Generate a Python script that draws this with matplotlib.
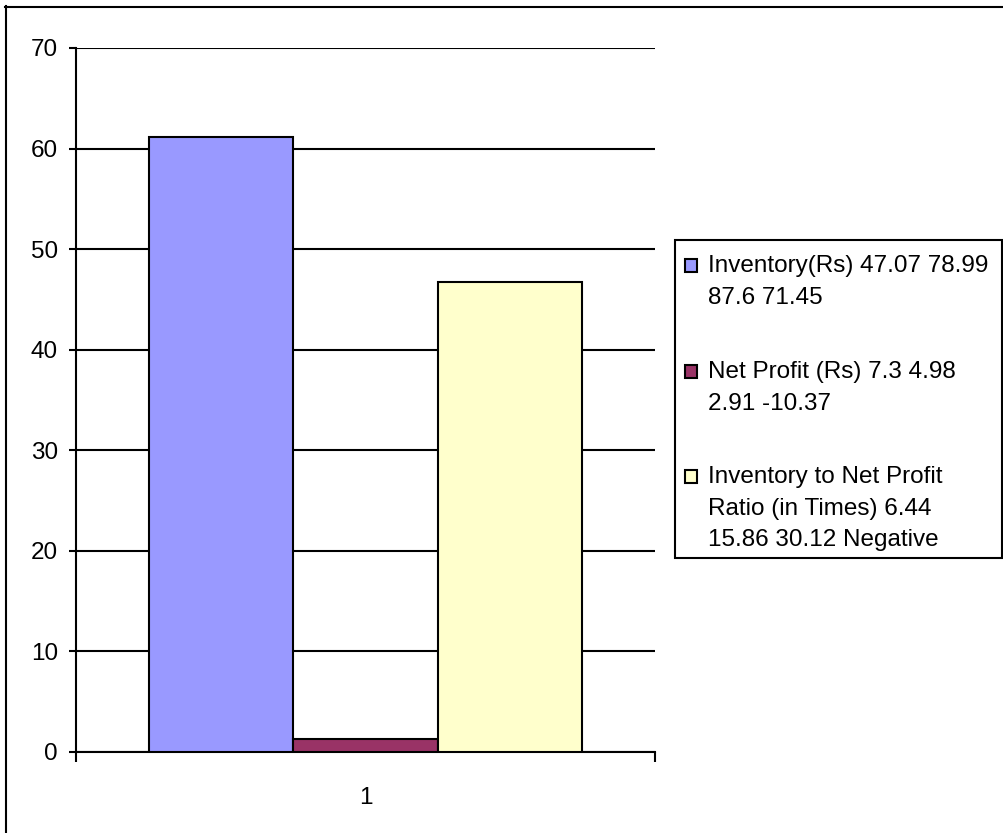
import numpy as np
import matplotlib.pyplot as plt
from matplotlib.patches import Rectangle
from matplotlib.lines import Line2D

plt.rcParams['font.family'] = ['Liberation Sans', 'DejaVu Sans']

# series data
categories = ['1']
series = [
    'Inventory(Rs) 47.07 78.99 87.6 71.45',
    'Net Profit (Rs) 7.3 4.98 2.91 -10.37',
    'Inventory to Net Profit Ratio (in Times) 6.44 15.86 30.12 Negative',
]
legend_lines = [
    ['Inventory(Rs) 47.07 78.99', '87.6 71.45'],
    ['Net Profit (Rs) 7.3 4.98', '2.91 -10.37'],
    ['Inventory to Net Profit', 'Ratio (in Times) 6.44', '15.86 30.12 Negative'],
]
values = [61.2, 1.3, 46.7]
colors = ['#9999FF', '#993366', '#FFFFCC']

W, H = 1004, 833
fig = plt.figure(figsize=(W / 100, H / 100), dpi=100)

def fx(px):
    return px / W

def fy(py):
    return 1 - py / H

ax = fig.add_axes([fx(76), fy(752), fx(655) - fx(76), fy(48) - fy(752)])

bw = 0.249
for i, (v, c) in enumerate(zip(values, colors)):
    ax.bar(1 + (i - 1) * bw, v, width=bw, color=c, edgecolor='black',
           linewidth=1.5, zorder=3)

ax.set_xlim(0.5, 1.5)
ax.set_ylim(0, 70)
ax.set_yticks(np.arange(0, 71, 10))
ax.yaxis.grid(True, color='black', linewidth=1.5, zorder=0)
ax.set_axisbelow(True)
ax.set_xticks([1])
ax.set_xticklabels(categories)
ax.set_xticks([0.5, 1.5], minor=True)
ax.tick_params(axis='x', which='major', length=0, pad=25, labelsize=17.5)
ax.tick_params(axis='x', which='minor', length=7, width=1.5, direction='out')
ax.tick_params(axis='y', length=5, width=1.5, pad=8, labelsize=17.5)
for s in ['top', 'right']:
    ax.spines[s].set_visible(False)
for s in ['left', 'bottom']:
    ax.spines[s].set_linewidth(1.5)

# legend box drawn by hand so each entry wraps over several lines
fig.add_artist(Rectangle((fx(675.5), fy(558)), fx(1002.5) - fx(675.5),
                         fy(239.5) - fy(558), transform=fig.transFigure,
                         facecolor='white', edgecolor='black', linewidth=1.5))
first_base = [272, 378, 483]
line_step = 31.5
for lines, c, yb in zip(legend_lines, colors, first_base):
    fig.add_artist(Rectangle((fx(685.5), fy(yb)), fx(12), 13 / H,
                             transform=fig.transFigure, facecolor=c,
                             edgecolor='black', linewidth=1.5))
    for k, t in enumerate(lines):
        fig.text(fx(708), fy(yb + k * line_step), t, fontsize=17.5,
                 va='baseline', ha='left')

# outer chart frame (top and left edges)
fig.add_artist(Line2D([fx(5.5), fx(5.5)], [fy(6), 0], transform=fig.transFigure,
                      color='black', linewidth=1.5))
fig.add_artist(Line2D([fx(5), 1], [fy(6.5), fy(6.5)], transform=fig.transFigure,
                      color='black', linewidth=1.5))

fig.savefig('out.png', dpi=100)
